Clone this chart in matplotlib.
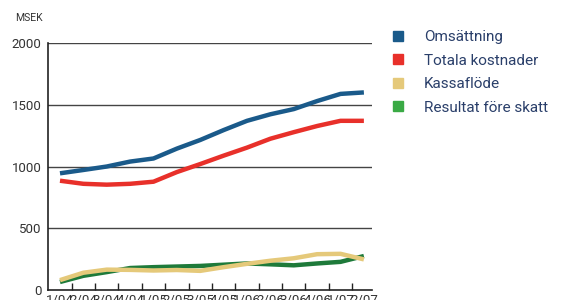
import matplotlib
matplotlib.use('Agg')
import matplotlib.pyplot as plt
from matplotlib.lines import Line2D

plt.rcParams['font.family'] = ['Roboto', 'DejaVu Sans']

# kvartal
quarters = ['1/04', '2/04', '3/04', '4/04', '1/05', '2/05', '3/05', '4/05',
            '1/06', '2/06', '3/06', '4/06', '1/07', '2/07']

# MSEK
omsattning = [945, 972, 1000, 1040, 1065, 1145, 1215, 1295, 1370, 1423, 1465, 1530, 1588, 1600]
kostnader = [885, 860, 853, 860, 877, 955, 1020, 1088, 1153, 1225, 1278, 1328, 1370, 1370]
kassaflode = [80, 140, 165, 163, 158, 162, 155, 185, 212, 237, 257, 290, 293, 248]
resultat = [65, 115, 145, 178, 185, 190, 195, 205, 215, 208, 200, 215, 228, 275]

series = [
    ('Omsättning', omsattning, '#1a5a8a', '#1a5a8a'),
    ('Totala kostnader', kostnader, '#e8302a', '#e8302a'),
    ('Kassaflöde', kassaflode, '#e5c97a', '#e5c97a'),
    ('Resultat före skatt', resultat, '#1e7a3a', '#3aaa45'),
]

fig = plt.figure(figsize=(5.71, 3.0), dpi=100)
ax = fig.add_axes([0.0846, 0.0333, 0.567, 0.8233])

x = list(range(len(quarters)))
# ritordning: gul under grön
for name, vals, col, _ in [series[0], series[1], series[3], series[2]]:
    ax.plot(x, vals, color=col, lw=3.2, solid_capstyle='butt', zorder=3)

ax.set_ylim(0, 2000)
ax.set_xlim(-0.5, 13.35)
ax.set_yticks([0, 500, 1000, 1500, 2000])
ax.tick_params(axis='y', length=0, pad=5, labelsize=9.5, colors='#333333')
ax.set_xticks(x)
ax.set_xticklabels(quarters)
ax.tick_params(axis='x', which='major', length=0, pad=3, labelsize=9.5, colors='#333333')
ax.set_xticks([i + 0.5 for i in x[:-1]], minor=True)
ax.tick_params(axis='x', which='minor', direction='in', length=5, width=1, color='#222222')

for v in [500, 1000, 1500, 2000]:
    ax.axhline(v, color='#444444', lw=1, zorder=1)

for s in ['top', 'right']:
    ax.spines[s].set_visible(False)
for s in ['left', 'bottom']:
    ax.spines[s].set_color('#222222')
    ax.spines[s].set_linewidth(1.2)

fig.text(0.026, 0.94, 'MSEK', fontsize=7.5, color='#333333', va='center')

handles = [Line2D([], [], marker='s', linestyle='', color=leg, markersize=7.5)
           for _, _, _, leg in series]
leg = fig.legend(handles, [s[0] for s in series], loc='upper left',
                 bbox_to_anchor=(0.670, 0.925), frameon=False, fontsize=11,
                 handletextpad=1.2, labelspacing=0.62, handlelength=1.0,
                 borderpad=0)
for t in leg.get_texts():
    t.set_color('#2a3f6a')

fig.savefig('out.png', dpi=100)
